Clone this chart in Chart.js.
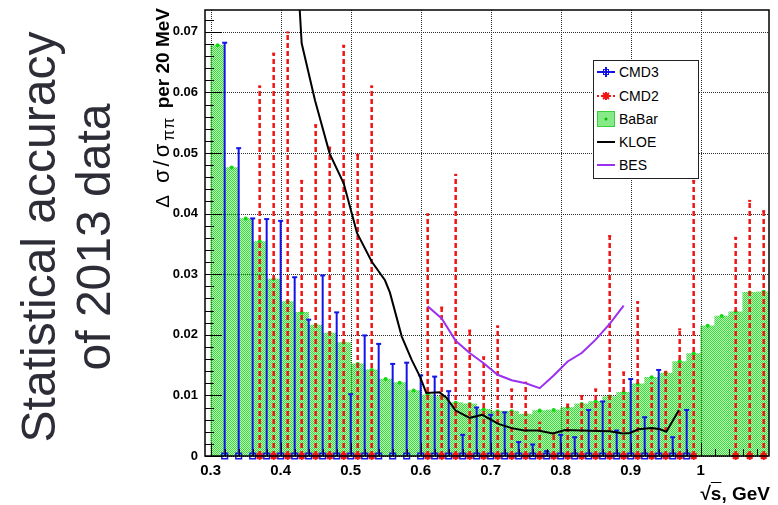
<!DOCTYPE html>
<html>
<head>
<meta charset="utf-8">
<title>Statistical accuracy of 2013 data</title>
<script src="https://cdn.jsdelivr.net/npm/chart.js@4.4.1/dist/chart.umd.min.js"></script>
<style>
  html, body { margin: 0; padding: 0; background: #fff; }
  #page { position: relative; width: 778px; height: 505px; overflow: hidden; font-family: "Liberation Sans", Arial, Helvetica, sans-serif; }
  #plot { position: absolute; left: 0; top: 0; }
  .rot { position: absolute; white-space: nowrap; transform: rotate(-90deg); transform-origin: right top; }
  #caption { left: -449px; top: 7px; width: 460px; height: 110px; font-size: 48px; line-height: 55px; text-align: center; color: #2d2d37; }
  #ytitle { left: -89.5px; top: 8px; width: 240px; height: 22px; font-size: 19px; line-height: 22px; font-weight: bold; text-align: right; color: #000; }
  #ytitle .d { font-weight: normal; margin-right: 12px; }
  #ytitle .g { font-weight: normal; font-size: 22px; letter-spacing: 3px; }
  #ytitle sub { font-size: 16px; line-height: 0; vertical-align: -5px; font-weight: normal; letter-spacing: 1px; margin-right: 3px; }
  #xtitle { position: absolute; right: 8px; top: 483px; font-size: 19px; line-height: 22px; font-weight: bold; white-space: nowrap; }
  #xtitle .s { text-decoration: overline; }
  #legend { position: absolute; left: 593px; top: 60px; width: 104px; height: 117px; border: 1px solid #222; background: #fff; }
  .item { position: absolute; left: 3px; width: 100px; height: 16px; line-height: 16px; font-size: 14px; color: #000; }
  .item svg { position: absolute; left: 0; top: 0; }
  .item span { position: absolute; left: 22px; top: 0; }
</style>
</head>
<body>
<div id="page">
  <canvas id="plot" width="778" height="505"></canvas>
  <div id="caption" class="rot">Statistical accuracy<br>of 2013 data</div>
  <div id="ytitle" class="rot"><span class="d">&Delta;</span><span class="g">&sigma;/&sigma;</span><sub>&pi;&pi;</sub> per 20 MeV</div>
  <div id="xtitle">&radic;<span class="s">s</span>, GeV</div>
  <div id="legend">
    <div class="item" style="top:3px">
      <svg width="18" height="16"><line x1="0" y1="8" x2="18" y2="8" stroke="#1414e6" stroke-width="2"/><line x1="9" y1="3" x2="9" y2="13" stroke="#1414e6" stroke-width="2"/><rect x="6.5" y="5.5" width="5" height="5" fill="none" stroke="#1414e6" stroke-width="1"/></svg>
      <span>CMD3</span>
    </div>
    <div class="item" style="top:27px">
      <svg width="18" height="16"><line x1="0" y1="8" x2="18" y2="8" stroke="#f01414" stroke-width="2" stroke-dasharray="2,2"/><path d="M6 5 L12 11 M12 5 L6 11 M9 4 L9 12 M5 8 L13 8" stroke="#f01414" stroke-width="2"/></svg>
      <span>CMD2</span>
    </div>
    <div class="item" style="top:50px">
      <svg width="18" height="16"><rect x="0.5" y="0.5" width="17" height="15" fill="#86ea86" stroke="#3ccf3c" stroke-width="1"/><circle cx="9" cy="8" r="1.5" fill="#0bb80b"/></svg>
      <span>BaBar</span>
    </div>
    <div class="item" style="top:73px">
      <svg width="18" height="16"><line x1="0" y1="8" x2="18" y2="8" stroke="#000" stroke-width="2"/></svg>
      <span>KLOE</span>
    </div>
    <div class="item" style="top:96px">
      <svg width="18" height="16"><line x1="0" y1="8" x2="18" y2="8" stroke="#9b30f0" stroke-width="2"/></svg>
      <span>BES</span>
    </div>
  </div>
</div>
<script>
// BaBar, 20 MeV bins (centres)
const babarX = [0.31, 0.33, 0.35, 0.37, 0.39, 0.41, 0.43, 0.45, 0.47, 0.49,
                0.51, 0.53, 0.55, 0.57, 0.59, 0.61, 0.63, 0.65, 0.67, 0.69,
                0.71, 0.73, 0.75, 0.77, 0.79, 0.81, 0.83, 0.85, 0.87, 0.89,
                0.91, 0.93, 0.95, 0.97, 0.99, 1.01, 1.03, 1.05, 1.07, 1.09];
const babarY = [0.0678, 0.0476, 0.0392, 0.0354, 0.0292, 0.0255, 0.0237, 0.0216, 0.0203, 0.0187,
                0.0152, 0.0142, 0.0127, 0.0121, 0.0108, 0.0101, 0.0098, 0.0088, 0.0086, 0.0077,
                0.0074, 0.0074, 0.0069, 0.0075, 0.0076, 0.0080, 0.0086, 0.0090, 0.0098, 0.0105,
                0.0119, 0.0130, 0.0137, 0.0156, 0.0169, 0.0215, 0.0231, 0.0238, 0.0270, 0.0271];

// CMD3
const cmd3X = [0.32, 0.34, 0.36, 0.38, 0.40, 0.42, 0.44, 0.46, 0.48, 0.50,
               0.52, 0.54, 0.56, 0.58, 0.60, 0.62, 0.64, 0.66, 0.68, 0.70,
               0.72, 0.74, 0.76, 0.78, 0.80, 0.82, 0.84, 0.86, 0.88, 0.90,
               0.92, 0.94, 0.96, 0.98];
const cmd3Y = [0.0682, 0.0508, 0.0392, 0.0391, 0.0388, 0.0295, 0.0225, 0.0298, 0.0237, 0.0102,
               0.0199, 0.0185, 0.0152, 0.0154, 0.0133, 0.0131, 0.0107, 0.0035, 0.0080, 0.0068,
               0.0072, 0.0023, 0.0019, 0.0008, 0.0035, 0.0031, 0.0076, 0.0090, 0.0042, 0.0127,
               0.0064, 0.0142, 0.0031, 0.0076];

// CMD2
const cmd2X = [0.37, 0.39, 0.41, 0.43, 0.45, 0.47, 0.49, 0.51, 0.53,
               0.61, 0.63, 0.65, 0.67, 0.69, 0.71, 0.73, 0.75, 0.77, 0.79,
               0.81, 0.83, 0.85, 0.87, 0.89, 0.91, 0.93, 0.95, 0.97, 0.99,
               1.05, 1.07, 1.09];
const cmd2Y = [0.0610, 0.0664, 0.0699, 0.0454, 0.0546, 0.0509, 0.0677, 0.0497, 0.0610,
               0.0399, 0.0245, 0.0464, 0.0207, 0.0163, 0.0214, 0.0110, 0.0121, 0.0055, 0.0037,
               0.0085, 0.0099, 0.0110, 0.0363, 0.0138, 0.0254, 0.0120, 0.0139, 0.0209, 0.0454,
               0.0360, 0.0421, 0.0404];

// KLOE
const kloeX = [0.424, 0.430, 0.449, 0.470, 0.490, 0.504, 0.509, 0.530, 0.549, 0.556,
               0.573, 0.587, 0.599, 0.608, 0.627, 0.637, 0.650, 0.670, 0.688, 0.711,
               0.730, 0.748, 0.768, 0.789, 0.806, 0.830, 0.870, 0.889, 0.899, 0.911,
               0.930, 0.942, 0.951, 0.969];
const kloeY = [0.0800, 0.0681, 0.0587, 0.0499, 0.0450, 0.0390, 0.0368, 0.0321, 0.0290, 0.0270,
               0.0197, 0.0159, 0.0131, 0.0104, 0.0105, 0.0096, 0.0075, 0.0063, 0.0068, 0.0053,
               0.0046, 0.0042, 0.0042, 0.0037, 0.0043, 0.0042, 0.0041, 0.0037, 0.0038, 0.0044,
               0.0046, 0.0044, 0.0040, 0.0076];

// BES
const besX = [0.61, 0.63, 0.65, 0.67, 0.69, 0.71, 0.73, 0.75, 0.77, 0.79, 0.81, 0.83, 0.85, 0.87, 0.89];
const besY = [0.0247, 0.0227, 0.0190, 0.0170, 0.0153, 0.0134, 0.0125, 0.0120, 0.0112, 0.0133,
              0.0156, 0.0170, 0.0192, 0.0218, 0.0248];

// axes
const xTicks = [0.3, 0.4, 0.5, 0.6, 0.7, 0.8, 0.9, 1.0];
const xTickLabels = ['0.3', '0.4', '0.5', '0.6', '0.7', '0.8', '0.9', '1'];
const yTicks = [0, 0.01, 0.02, 0.03, 0.04, 0.05, 0.06, 0.07];
const yTickLabels = ['0', '0.01', '0.02', '0.03', '0.04', '0.05', '0.06', '0.07'];
const xMin = 0.2919, xMax = 1.0976;
const yMax = 0.0736;

const FONT = '"Liberation Sans", Arial, Helvetica, sans-serif';

function pairs(xs, ys) {
    return xs.map((x, i) => ({ x: x, y: ys[i] }));
}

// one vertical bar from 0 up to the value, then a gap before the next one
function errorBars(xs, ys) {
    const pts = [];
    xs.forEach((x, i) => {
        pts.push({ x: x, y: 0 }, { x: x, y: ys[i] }, { x: x, y: null });
    });
    return pts;
}

// ROOT pattern fill: green dots with see-through holes
function greenFill() {
    const c = document.createElement('canvas');
    c.width = 2;
    c.height = 2;
    const g = c.getContext('2d');
    g.fillStyle = '#34dc34';
    g.fillRect(0, 0, 1, 1);
    g.fillRect(1, 1, 1, 1);
    g.fillStyle = 'rgba(90, 225, 90, 0.35)';
    g.fillRect(1, 0, 1, 1);
    g.fillRect(0, 1, 1, 1);
    return g.createPattern(c, 'repeat');
}

const atZero = ctx => ctx.raw && ctx.raw.y === 0;

// dotted grid, placed from the axis scales
function dotGrid(chart) {
    const { ctx, chartArea: a, scales: { x, y } } = chart;
    ctx.save();
    ctx.fillStyle = '#2a2a2a';
    xTicks.forEach(v => {
        const px = Math.round(x.getPixelForValue(v));
        for (let py = Math.ceil(a.top); py < a.bottom; py += 2) ctx.fillRect(px, py, 1, 1);
    });
    yTicks.forEach(v => {
        const py = Math.round(y.getPixelForValue(v));
        for (let px = Math.ceil(a.left); px < a.right; px += 2) ctx.fillRect(px, py, 1, 1);
    });
    ctx.restore();
}

// grid under the data, frame and inward ticks on top, like ROOT
const rootAxes = {
    id: 'rootAxes',
    beforeDatasetsDraw(chart) {
        dotGrid(chart);
    },
    afterDatasetsDraw(chart) {
        const { ctx, chartArea: a, scales: { x, y } } = chart;
        ctx.save();
        ctx.strokeStyle = '#000';
        ctx.lineWidth = 1;
        ctx.beginPath();
        for (let k = 0; k * 0.002 <= yMax; k++) {
            const py = Math.round(y.getPixelForValue(k * 0.002)) + 0.5;
            ctx.moveTo(a.left, py);
            ctx.lineTo(a.left + (k % 5 === 0 ? 17 : 9), py);
        }
        for (let k = 15; k * 0.02 <= xMax; k++) {
            const px = Math.round(x.getPixelForValue(k * 0.02)) + 0.5;
            ctx.moveTo(px, a.bottom);
            ctx.lineTo(px, a.bottom - (k % 5 === 0 ? 13 : 7));
        }
        ctx.stroke();
        ctx.lineWidth = 1.5;
        ctx.strokeRect(a.left, a.top, a.width, a.height);
        ctx.restore();
    }
};

new Chart(document.getElementById('plot').getContext('2d'), {
    type: 'line',
    data: {
        datasets: [
            {
                label: 'BES',
                data: pairs(besX, besY),
                borderColor: '#9b30f0',
                borderWidth: 2,
                pointRadius: 0,
                order: 1,
                clip: 0
            },
            {
                label: 'KLOE',
                data: pairs(kloeX, kloeY),
                borderColor: '#000000',
                borderWidth: 2,
                pointRadius: 0,
                order: 2,
                clip: 0
            },
            {
                label: 'CMD3',
                data: errorBars(cmd3X, cmd3Y),
                borderColor: '#1414e6',
                borderWidth: 2,
                spanGaps: false,
                pointStyle: ctx => (atZero(ctx) ? 'rect' : 'line'),
                pointRadius: ctx => (atZero(ctx) ? 4 : 2.5),
                pointBorderWidth: ctx => (atZero(ctx) ? 1.5 : 2),
                pointBorderColor: '#1414e6',
                pointBackgroundColor: 'rgba(0,0,0,0)',
                order: 3,
                clip: false
            },
            {
                label: 'CMD2',
                data: errorBars(cmd2X, cmd2Y),
                borderColor: '#f01414',
                borderWidth: 2.5,
                borderDash: [5, 3],
                spanGaps: false,
                pointStyle: ctx => (atZero(ctx) ? 'star' : 'line'),
                pointRadius: ctx => (atZero(ctx) ? 4 : 1.5),
                pointBorderWidth: 2,
                pointBorderColor: '#f01414',
                pointBackgroundColor: '#f01414',
                order: 4,
                clip: false
            },
            {
                label: 'BaBar points',
                data: pairs(babarX, babarY),
                showLine: false,
                pointRadius: 2,
                pointBorderWidth: 0,
                pointBackgroundColor: '#12d812',
                order: 5,
                clip: 0
            },
            {
                type: 'bar',
                label: 'BaBar',
                data: pairs(babarX, babarY),
                backgroundColor: greenFill(),
                borderWidth: 0,
                barPercentage: 1,
                categoryPercentage: 1,
                order: 6,
                clip: 0
            }
        ]
    },
    options: {
        responsive: false,
        devicePixelRatio: 1,
        animation: false,
        events: [],
        layout: { padding: { left: 0, right: 9, top: 10, bottom: 0 } },
        plugins: {
            legend: { display: false },
            tooltip: { enabled: false }
        },
        scales: {
            x: {
                type: 'linear',
                min: xMin,
                max: xMax,
                offset: false,
                afterBuildTicks: s => { s.ticks = xTicks.map(v => ({ value: v })); },
                afterFit: s => { s.height = 49; s.paddingLeft = 0; s.paddingRight = 0; },
                ticks: {
                    callback: (v, i) => xTickLabels[i],
                    color: '#000',
                    font: { family: FONT, size: 15, weight: 'bold' },
                    padding: 6,
                    maxRotation: 0,
                    autoSkip: false
                },
                grid: { display: false, drawTicks: false },
                border: { display: false }
            },
            y: {
                type: 'linear',
                min: 0,
                max: yMax,
                afterBuildTicks: s => { s.ticks = yTicks.map(v => ({ value: v })); },
                afterFit: s => { s.width = 205; s.paddingTop = 0; s.paddingBottom = 0; },
                ticks: {
                    callback: (v, i) => yTickLabels[i],
                    color: '#000',
                    font: { family: FONT, size: 13, weight: 'bold' },
                    padding: 7
                },
                grid: { display: false, drawTicks: false },
                border: { display: false }
            }
        }
    },
    plugins: [rootAxes]
});
</script>
</body>
</html>
